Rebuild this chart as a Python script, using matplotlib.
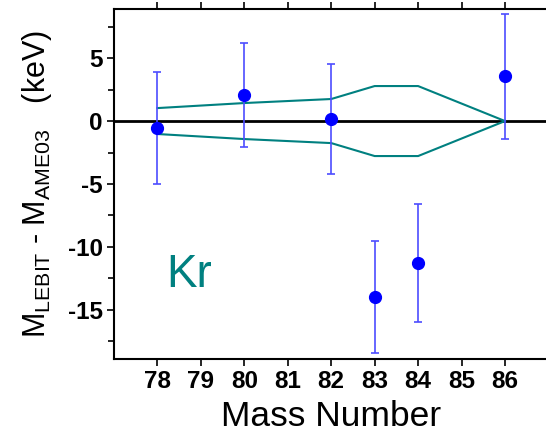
import matplotlib
matplotlib.use("Agg")
import matplotlib.pyplot as plt
from matplotlib.ticker import MultipleLocator

plt.rcParams['font.family'] = ['Liberation Sans', 'DejaVu Sans']
plt.rcParams['mathtext.fontset'] = 'custom'
plt.rcParams['mathtext.rm'] = 'Liberation Sans'
plt.rcParams['mathtext.it'] = 'Liberation Sans'
plt.rcParams['axes.unicode_minus'] = False

mass = [78, 80, 82, 83, 84, 86]
delta = [-0.55, 2.06, 0.16, -14.0, -11.3, 3.55]
err = [4.45, 4.15, 4.4, 4.45, 4.7, 4.95]

env_mass = [78, 80, 82, 83, 84, 86]
env_up = [1.03, 1.43, 1.75, 2.78, 2.78, 0.0]
env_lo = [-1.03, -1.43, -1.75, -2.78, -2.78, 0.0]

xticks = [78, 79, 80, 81, 82, 83, 84, 85, 86]

fig = plt.figure(figsize=(5.46, 4.36), dpi=100)
ax = fig.add_axes([114/546, 1-359/436, 434/546, 350/436])

ax.axhline(0, color='black', lw=2, zorder=1)
ax.plot(env_mass, env_up, color='#008080', lw=1.5, zorder=2)
ax.plot(env_mass, env_lo, color='#008080', lw=1.5, zorder=2)
ax.errorbar(mass, delta, yerr=err, fmt='o', color='blue', ms=8.5,
            ecolor=(0.3, 0.3, 1.0), elinewidth=1.2, capsize=3, capthick=1.2, zorder=3)

ax.text(78.2, -13.2, 'Kr', color='#008080', fontsize=33, ha='left', va='baseline')

ax.set_xlim(77.0, 86.99)
ax.set_ylim(-18.9, 8.9)
ax.set_xticks(xticks)
ax.set_xticklabels([str(t) for t in xticks])
ax.yaxis.set_major_locator(MultipleLocator(5))
ax.yaxis.set_minor_locator(MultipleLocator(2.5))
ax.tick_params(axis='both', which='major', labelsize=17.5, width=1.2, length=5, direction='out', pad=3)
ax.tick_params(axis='y', which='minor', width=1.2, length=4, direction='out')
ax.tick_params(top=True, which='major', axis='x')
for lab in ax.get_xticklabels() + ax.get_yticklabels():
    lab.set_fontweight('bold')
for s in ax.spines.values():
    s.set_linewidth(1.5)

ax.set_xlabel('Mass Number', fontsize=25.5, labelpad=5)
ax.set_ylabel(r'M$_{\mathrm{LEBIT}}$ - M$_{\mathrm{AME03}}$   (keV)', fontsize=22, labelpad=10)

fig.savefig('out.png', dpi=100)
